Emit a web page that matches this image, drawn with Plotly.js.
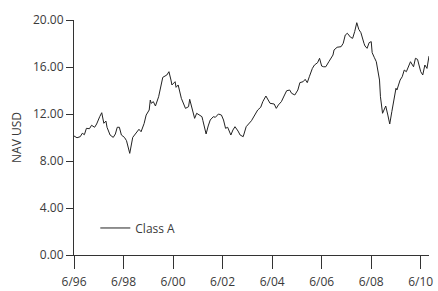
<!DOCTYPE html>
<html>
<head>
<meta charset="utf-8">
<script src="https://cdn.plot.ly/plotly-3.0.1.min.js"></script>
<style>html,body{margin:0;padding:0;background:#fff}#chart{width:438px;height:291px}</style>
</head>
<body>
<div id="chart"></div>
<script>
const dates = [
"1996-06-01","1996-07-15","1996-09-01","1996-10-01","1996-11-01","1996-12-01","1997-01-15","1997-02-15","1997-04-01","1997-05-01",
"1997-06-15","1997-07-15","1997-08-15","1997-09-15","1997-10-01","1997-11-15","1998-01-01","1998-02-01","1998-03-01","1998-04-01",
"1998-05-01","1998-06-15","1998-07-15","1998-09-01","1998-10-15","1998-12-15","1999-01-15","1999-02-15","1999-04-01","1999-05-01",
"1999-06-15","1999-07-01","1999-07-15","1999-08-15","1999-09-15","1999-11-01","1999-12-15","2000-01-01","2000-03-01","2000-04-01",
"2000-05-01","2000-05-15","2000-07-01","2000-07-15","2000-08-15","2000-10-01","2000-12-01","2001-01-15","2001-02-01","2001-03-15",
"2001-04-15","2001-05-15","2001-08-01","2001-08-15","2001-10-01","2001-11-01","2001-12-01","2002-01-15","2002-02-15","2002-04-01",
"2002-05-15","2002-06-15","2002-07-15","2002-08-15","2002-10-01","2002-11-01","2002-12-01","2003-01-15","2003-02-15","2003-04-01",
"2003-05-15","2003-08-01","2003-09-15","2003-11-01","2003-12-15","2004-01-15","2004-03-01","2004-04-01","2004-05-01","2004-07-01",
"2004-08-01","2004-09-01","2004-10-15","2004-12-01","2005-01-01","2005-02-15","2005-03-15","2005-05-01","2005-06-15","2005-07-15",
"2005-09-01","2005-10-01","2005-11-01","2005-12-01","2006-01-15","2006-02-15","2006-04-01","2006-05-01","2006-06-01","2006-07-01",
"2006-08-01","2006-09-15","2006-11-15","2006-12-01","2007-01-15","2007-03-15","2007-04-15","2007-05-15","2007-06-15","2007-08-01",
"2007-09-01","2007-10-01","2007-11-01","2007-12-01","2008-01-01","2008-02-15","2008-03-01","2008-04-01","2008-05-01","2008-06-01",
"2008-06-15","2008-07-15","2008-08-15","2008-10-01","2008-10-15","2008-11-15","2009-01-01","2009-02-01","2009-03-01","2009-04-01",
"2009-05-01","2009-06-01","2009-06-15","2009-08-01","2009-09-01","2009-10-01","2009-11-01","2009-12-15","2010-01-01","2010-02-15",
"2010-03-15","2010-04-15","2010-06-01","2010-07-01","2010-08-01","2010-09-01","2010-10-01"
];
const navClassA = [
10.13,9.98,10.07,10.36,10.24,10.78,10.75,11.04,10.87,11.15,
11.77,12.11,11.21,11.40,10.87,10.21,10.01,10.30,10.87,10.87,
10.21,10.01,9.73,8.65,10.01,10.49,10.70,10.49,11.19,11.91,
12.34,13.19,12.91,13.05,12.68,13.47,14.75,15.12,15.32,15.60,
14.89,14.47,14.75,14.27,14.47,13.33,12.48,12.62,13.25,12.34,
11.63,12.06,11.77,11.43,10.30,10.98,11.49,11.77,11.72,12.00,
11.91,11.49,10.78,10.87,10.21,10.64,10.92,10.55,10.21,10.07,
10.92,11.43,11.91,12.34,12.57,13.05,13.53,13.25,12.91,12.85,
12.48,12.77,13.05,13.62,13.98,14.04,13.76,13.62,14.04,14.67,
14.75,14.95,14.67,15.17,15.88,16.17,16.36,16.74,16.08,16.02,
16.02,16.45,17.02,17.45,17.68,17.73,18.02,18.72,18.87,18.53,
18.44,19.01,19.77,19.20,18.92,18.02,17.79,17.59,18.07,18.16,
17.22,16.83,16.45,14.89,13.47,12.06,12.68,11.91,11.15,12.20,
13.33,14.19,14.04,14.89,15.17,15.74,15.60,16.31,16.45,16.02,
16.74,16.65,15.60,15.32,16.17,15.88,16.93
];
const seriesName = "Class A";
const xTickVals = ["1996-06-01","1998-06-01","2000-06-01","2002-06-01","2004-06-01","2006-06-01","2008-06-01","2010-06-01"];
const xTickText = ["6/96","6/98","6/00","6/02","6/04","6/06","6/08","6/10"];
const yTickVals = [0,4,8,12,16,20];
const yTickText = ["0.00","4.00","8.00","12.00","16.00","20.00"];

const font = {family: "Open Sans, Noto Sans, sans-serif", size: 12, color: "#3a3a3a"};
Plotly.newPlot("chart", [{
  x: dates, y: navClassA, type: "scatter", mode: "lines", name: seriesName,
  line: {color: "#222", width: 1}
}], {
  width: 438, height: 291,
  margin: {l: 74, r: 9, t: 20, b: 36},
  paper_bgcolor: "#fff", plot_bgcolor: "#fff",
  font: font,
  showlegend: true,
  legend: {x: 0.06, y: 0.115, xanchor: "left", yanchor: "middle", bgcolor: "rgba(0,0,0,0)", font: font},
  xaxis: {
    type: "date", range: ["1996-06-01", "2010-10-01"],
    tickvals: xTickVals, ticktext: xTickText,
    showgrid: false, zeroline: false, showline: true, linecolor: "#333", linewidth: 1,
    ticks: "outside", ticklen: 13, tickcolor: "#333", tickwidth: 1, tickfont: font,
    ticklabelstandoff: 3
  },
  yaxis: {
    range: [0, 20], tickvals: yTickVals, ticktext: yTickText,
    showgrid: false, zeroline: false, showline: true, linecolor: "#333", linewidth: 1,
    ticks: "outside", ticklen: 7, tickcolor: "#333", tickwidth: 1, tickfont: font,
    title: {text: "NAV USD", font: font, standoff: 8}
  }
}, {displayModeBar: false, staticPlot: true});
</script>
</body>
</html>
